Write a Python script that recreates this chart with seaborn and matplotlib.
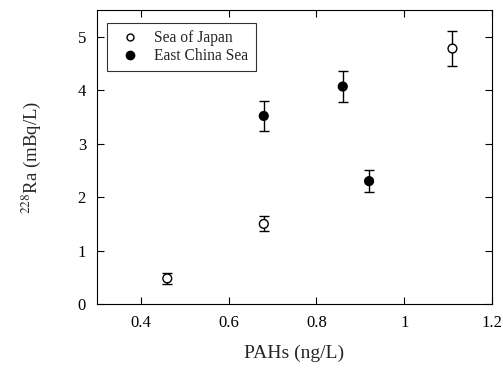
import numpy as np
import pandas as pd
import matplotlib
matplotlib.use("Agg")
import matplotlib.pyplot as plt
import seaborn as sns

# Data
japan_x = [0.46, 0.68, 1.11]
japan_y = [0.48, 1.50, 4.78]
japan_err = [0.10, 0.14, 0.32]

ecs_x = [0.68, 0.86, 0.92]
ecs_y = [3.52, 4.07, 2.30]
ecs_err = [0.28, 0.29, 0.20]

series_names = ["Sea of Japan", "East China Sea"]
x_ticks = [0.4, 0.6, 0.8, 1.0, 1.2]
x_tick_labels = ["0.4", "0.6", "0.8", "1", "1.2"]
y_ticks = [0, 1, 2, 3, 4, 5]

sns.set_style("ticks")
plt.rcParams["font.family"] = ["Liberation Serif", "DejaVu Serif"]
plt.rcParams["mathtext.fontset"] = "stix"

df = pd.DataFrame({
    "x": japan_x + ecs_x,
    "y": japan_y + ecs_y,
    "err": japan_err + ecs_err,
    "site": [series_names[0]] * 3 + [series_names[1]] * 3,
})

fig = plt.figure(figsize=(5.03, 3.74), dpi=100)
ax = fig.add_axes([0.193, 0.187, 0.785, 0.786])

# error bars
ax.errorbar(df["x"], df["y"], yerr=df["err"], fmt="none", ecolor="black",
            elinewidth=1.0, capsize=3.5, capthick=1.0, zorder=2)

sns.scatterplot(data=df, x="x", y="y", hue="site", style="site",
                palette={series_names[0]: "white", series_names[1]: "black"},
                markers={series_names[0]: "o", series_names[1]: "o"},
                edgecolor="black", linewidth=1.0, s=40, ax=ax, zorder=3,
                legend=False)

# legend
from matplotlib.lines import Line2D
handles = [
    Line2D([], [], marker="o", ls="none", markerfacecolor="white",
           markeredgecolor="black", markersize=5, markeredgewidth=1.0),
    Line2D([], [], marker="o", ls="none", markerfacecolor="black",
           markeredgecolor="black", markersize=6),
]
leg = ax.legend(handles, series_names, loc="upper left",
                bbox_to_anchor=(0.025, 0.955), fontsize=11.2, frameon=True,
                fancybox=False, edgecolor="black", handletextpad=0.6,
                borderpad=0.45, labelspacing=0.12, handlelength=2.0,
                borderaxespad=0)
leg.get_frame().set_linewidth(0.8)

ax.set_xlim(0.3, 1.2)
ax.set_ylim(0, 5.5)
ax.set_xticks(x_ticks)
ax.set_xticklabels(x_tick_labels)
ax.set_yticks(y_ticks)
ax.tick_params(direction="in", top=True, right=True, length=5, width=0.8,
               labelsize=12, colors="black", pad=8)
for sp in ax.spines.values():
    sp.set_visible(True)
    sp.set_linewidth(0.8)
    sp.set_color("black")

ax.set_xlabel("PAHs (ng/L)", fontsize=14, labelpad=10)
ax.set_ylabel(r"$^{228}$Ra (mBq/L)", fontsize=13.5, labelpad=25)

fig.savefig("out.png", dpi=100)
